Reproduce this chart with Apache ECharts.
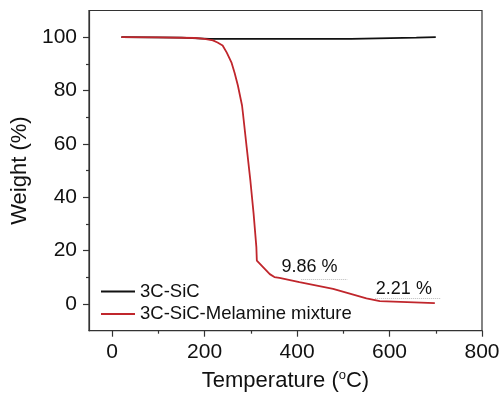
<!DOCTYPE html>
<html>
<head>
<meta charset="utf-8">
<script src="https://cdn.jsdelivr.net/npm/echarts@6/dist/echarts.min.js"></script>
<style>html,body{margin:0;padding:0;background:#fff}#c{width:503px;height:394px}</style>
</head>
<body>
<div id="c"></div>
<script>
var sicTemp   = [20, 150, 210, 517, 520, 658, 662, 700];
var sicWeight = [100, 99.8, 99.4, 99.4, 99.7, 99.8, 100, 100];
var mixTemp   = [20, 100, 180, 200, 218, 228, 239, 248, 258, 265, 272, 281, 283, 291, 299, 306, 312, 313, 341, 351, 362, 405, 478, 514, 550, 579, 698];
var mixWeight = [100, 99.9, 99.7, 99.4, 98.8, 98.0, 96.9, 94.2, 90.6, 86.6, 81.9, 74.4, 71.4, 58.8, 46.3, 33.9, 21.3, 16.3, 11.2, 10.1, 9.8, 8.2, 5.7, 3.9, 2.1, 1.1, 0.3];
var xTicks = [0, 200, 400, 600, 800];
var xMinor = [100, 300, 500, 700];
var yTicks = [0, 20, 40, 60, 80, 100];
var yMinor = [10, 30, 50, 70, 90];
var seriesNames = ['3C-SiC', '3C-SiC-Melamine mixture'];
var notes = [
  {text: '9.86 %', x: 427, y: 13.9, x1: 409, x2: 509, yl: 9.3},
  {text: '2.21 %', x: 631, y: 5.6, x1: 569, x2: 710, yl: 2.0}
];

var FONT = 'Liberation Sans, Arial, sans-serif';
var AX = '#333';
function zip(a, b) { return a.map(function (v, i) { return [v, b[i]]; }); }

var chart = echarts.init(document.getElementById('c'));
chart.setOption({
  animation: false,
  backgroundColor: '#fff',
  textStyle: {fontFamily: FONT},
  grid: {left: 89, right: 21, top: 10.5, bottom: 63.3, outerBoundsMode: 'none', containLabel: false,
    show: true, borderColor: AX, borderWidth: 1.2, backgroundColor: 'transparent'},
  legend: {
    orient: 'vertical', left: 96, top: 277, itemWidth: 34, itemHeight: 2, itemGap: 3.5,
    icon: 'rect',
    textStyle: {fontSize: 18.5, color: '#111', fontFamily: FONT},
    data: seriesNames
  },
  xAxis: [{
    type: 'value', min: -50, max: 800,
    name: 'Temperature ({sup|o}C)', nameLocation: 'middle', nameGap: 38,
    nameTextStyle: {fontSize: 22, color: '#111', fontFamily: FONT, lineHeight: 24,
      rich: {sup: {fontSize: 13, color: '#111', fontFamily: FONT, lineHeight: 13, verticalAlign: 'top'}}},
    axisLine: {onZero: false, lineStyle: {color: AX, width: 1.2}},
    axisTick: {show: true, inside: false, length: 6, customValues: xTicks, lineStyle: {color: AX, width: 1.2}},
    axisLabel: {customValues: xTicks, fontSize: 21, color: '#111', margin: 11, fontFamily: FONT},
    splitLine: {show: false}
  }, {
    type: 'value', min: -50, max: 800, position: 'bottom',
    axisLine: {show: false, onZero: false},
    axisTick: {show: true, length: 3, customValues: xMinor, lineStyle: {color: AX, width: 1.2}},
    axisLabel: {show: false}, splitLine: {show: false}
  }],
  yAxis: [{
    type: 'value', min: -10, max: 110,
    name: 'Weight (%)', nameLocation: 'middle', nameGap: 53,
    nameTextStyle: {fontSize: 22, color: '#111', fontFamily: FONT},
    axisLine: {show: true, onZero: false, lineStyle: {color: AX, width: 1.2}},
    axisTick: {show: true, inside: false, length: 6, customValues: yTicks, lineStyle: {color: AX, width: 1.2}},
    axisLabel: {customValues: yTicks, fontSize: 21, color: '#111', margin: 12, fontFamily: FONT},
    splitLine: {show: false}
  }, {
    type: 'value', min: -10, max: 110, position: 'left',
    axisLine: {show: false, onZero: false},
    axisTick: {show: true, length: 3, customValues: yMinor, lineStyle: {color: AX, width: 1.2}},
    axisLabel: {show: false}, splitLine: {show: false}
  }],
  series: [{
    name: seriesNames[0], type: 'line', showSymbol: false, symbol: 'none',
    data: zip(sicTemp, sicWeight),
    lineStyle: {color: '#111', width: 1.8}, itemStyle: {color: '#111'}
  }, {
    name: seriesNames[1], type: 'line', showSymbol: false, symbol: 'none',
    data: zip(mixTemp, mixWeight),
    lineStyle: {color: '#c0262c', width: 1.8}, itemStyle: {color: '#c0262c'},
    markLine: {
      silent: true, symbol: 'none', label: {show: false},
      lineStyle: {color: '#bbb', type: 'dotted', width: 1},
      data: notes.map(function (n) { return [{coord: [n.x1, n.yl]}, {coord: [n.x2, n.yl]}]; })
    },
    markPoint: {
      silent: true, symbol: 'circle', symbolSize: 0,
      label: {show: true, position: 'inside', fontSize: 18, color: '#111', fontFamily: FONT,
        formatter: function (p) { return p.name; }},
      data: notes.map(function (n) { return {name: n.text, coord: [n.x, n.y]}; })
    }
  }]
});
</script>
</body>
</html>
